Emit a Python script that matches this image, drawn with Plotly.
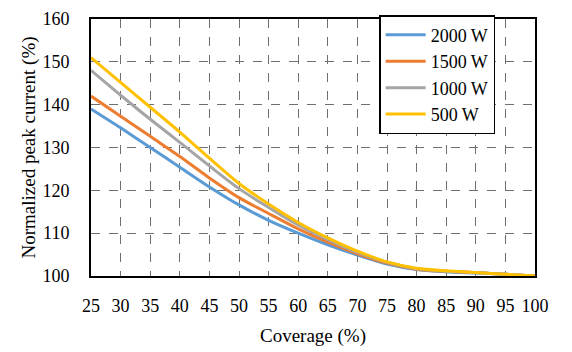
import plotly.graph_objects as go

coverage = [25, 30, 35, 40, 45, 50, 55, 60, 65, 70, 75, 80, 85, 90, 95, 100]
p2000 = [139.0, 134.6, 130.0, 125.4, 120.8, 116.6, 113.0, 110.0, 107.3, 104.9, 102.8, 101.5, 101.0, 100.7, 100.4, 100.0]
p1500 = [142.0, 137.3, 132.6, 127.9, 122.9, 118.3, 114.6, 111.0, 107.9, 105.2, 103.0, 101.6, 101.1, 100.8, 100.4, 100.0]
p1000 = [148.0, 142.2, 136.6, 131.2, 125.7, 120.4, 116.0, 111.9, 108.5, 105.5, 103.2, 101.7, 101.1, 100.8, 100.4, 100.0]
p500 = [151.0, 145.2, 139.4, 133.6, 127.5, 121.6, 116.8, 112.5, 108.9, 105.8, 103.3, 101.8, 101.2, 100.8, 100.4, 100.0]

series = [
    ("2000 W", p2000, "#5B9BD5"),
    ("1500 W", p1500, "#ED7D31"),
    ("1000 W", p1000, "#A5A5A5"),
    ("500 W", p500, "#FFC000"),
]

FONT = "Liberation Serif"

fig = go.Figure()
for name, vals, color in series:
    fig.add_trace(go.Scatter(
        x=coverage, y=vals, name=name, mode="lines",
        line=dict(color=color, width=3, shape="spline", smoothing=0.8),
    ))

fig.update_layout(
    width=572, height=352,
    margin=dict(l=91, r=37, t=9, b=74),
    paper_bgcolor="white", plot_bgcolor="white",
    font=dict(family=FONT, size=18, color="black"),
    legend=dict(
        x=0.649, y=1.015, xanchor="left", yanchor="top",
        bgcolor="white", bordercolor="black", borderwidth=1.5,
        font=dict(family=FONT, size=18, color="black"),
        tracegroupgap=0, itemwidth=40,
    ),
    showlegend=True,
)
fig.update_xaxes(
    range=[25, 100], tickmode="linear", tick0=25, dtick=5,
    title_text="Coverage (%)", title_font=dict(family=FONT, size=19, color="black"), title_standoff=14,
    ticklabelstandoff=12,
    showline=True, linecolor="black", linewidth=2, mirror=True,
    showgrid=True, gridcolor="#6f6f6f", gridwidth=1, griddash="dash",
    zeroline=False, ticks="", tickfont=dict(family=FONT, size=18, color="black"),
)
fig.update_yaxes(
    range=[100, 160], tickmode="linear", tick0=100, dtick=10,
    title_text="Normalized peak current (%)", title_font=dict(family=FONT, size=19, color="black"), title_standoff=2,
    ticklabelstandoff=16,
    showline=True, linecolor="black", linewidth=2, mirror=True,
    showgrid=True, gridcolor="#6f6f6f", gridwidth=1, griddash="dash",
    zeroline=False, ticks="", tickfont=dict(family=FONT, size=18, color="black"),
)

fig.write_html("out.html")
